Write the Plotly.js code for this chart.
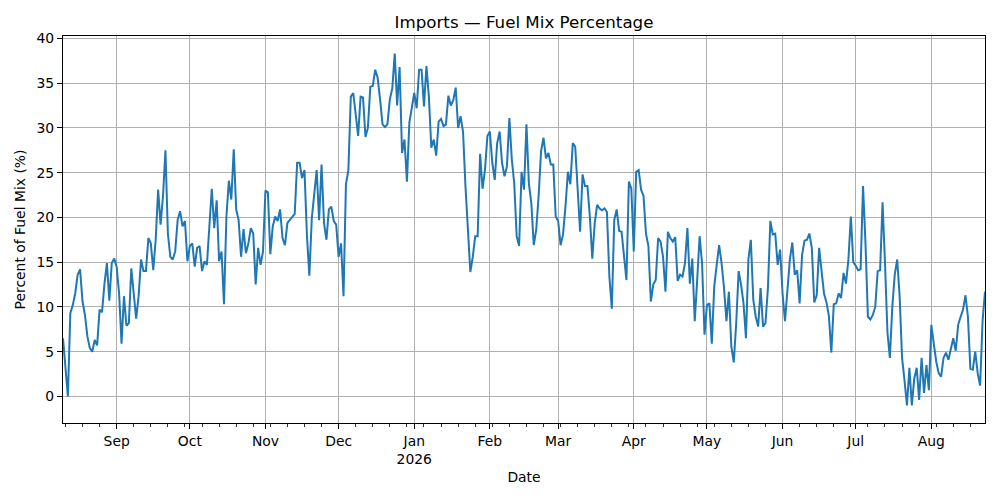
<!DOCTYPE html>
<html>
<head>
<meta charset="utf-8">
<script src="https://cdn.plot.ly/plotly-3.0.1.min.js"></script>
<style>html,body{margin:0;padding:0;background:#fff}#chart{width:1000px;height:500px}</style>
</head>
<body>
<div id="chart"></div>
<script>
// Daily series, first day 2025-08-10
const startDate = '2025-08-10';
const pct = [
6.5,3.0,0.0,9.3,10.2,11.5,13.6,14.2,10.6,9.1,6.7,5.4,5.0,6.3,5.7,9.7,9.4,12.6,14.9,10.7,
14.9,15.4,14.5,11.5,5.9,11.2,7.9,8.2,14.3,11.5,8.7,11.2,15.3,14.0,14.0,17.7,17.1,14.1,17.5,23.1,
19.2,22.4,27.5,18.2,15.6,15.3,16.2,19.7,20.7,19.0,19.6,15.1,16.8,17.1,14.5,16.6,16.8,14.0,15.1,14.7,
19.4,23.2,18.8,21.9,15.1,16.2,10.3,20.1,24.1,22.0,27.6,20.9,19.7,15.6,18.7,16.0,17.1,18.8,18.2,12.5,
16.6,14.7,16.2,23.0,22.8,15.9,19.0,20.1,19.6,20.9,17.7,16.9,19.4,19.7,20.1,20.4,26.1,26.1,24.4,25.3,
18.0,13.5,19.9,22.7,25.3,19.7,25.9,19.4,17.5,20.9,21.2,19.6,19.2,15.6,17.1,11.2,23.7,25.3,33.5,33.9,
31.1,29.1,33.5,33.4,29.0,30.0,34.6,34.7,36.5,35.6,33.2,30.4,30.1,30.4,33.2,34.4,38.3,32.5,36.8,27.2,
28.7,24.0,30.6,32.1,33.9,32.2,36.5,36.5,32.4,36.9,33.5,27.8,28.7,26.9,30.7,31.0,30.2,30.4,33.6,32.5,
33.1,34.5,30.0,31.3,29.6,23.5,17.9,13.9,15.6,17.9,17.9,27.1,23.2,25.3,29.1,29.6,26.1,24.2,28.3,29.6,
26.1,24.6,25.7,31.1,26.5,23.8,17.9,16.8,25.1,23.1,30.4,23.8,21.6,16.9,18.6,22.4,27.4,28.9,26.6,27.2,
25.9,25.9,20.1,19.6,16.9,18.1,21.2,25.1,23.7,28.3,27.9,23.7,18.4,24.8,23.5,23.5,20.1,15.4,19.4,21.4,
21.0,20.8,21.0,20.6,13.4,9.8,19.7,20.9,18.5,18.4,15.3,13.0,24.0,23.2,16.2,25.1,25.3,23.1,22.4,18.2,
16.8,10.6,12.5,13.0,17.7,17.3,15.6,11.7,18.4,17.7,17.3,17.8,12.9,13.6,13.4,14.9,18.8,12.6,15.4,8.4,
13.0,17.9,14.9,6.9,10.2,10.4,5.9,12.3,14.7,16.9,14.9,12.1,8.4,11.7,5.6,3.8,8.2,14.0,12.5,10.4,
6.5,15.3,17.5,10.8,8.9,7.8,12.1,7.8,8.2,12.1,19.6,18.1,18.2,14.7,16.4,11.5,8.4,12.1,15.3,17.2,
13.6,14.1,10.4,15.8,17.4,17.5,18.2,16.6,10.5,11.3,16.6,14.0,11.5,10.5,9.0,4.9,10.3,10.4,11.5,11.0,
13.8,12.6,15.3,20.1,15.0,14.6,14.1,14.2,23.5,17.1,8.9,8.6,9.1,10.0,14.0,14.1,21.7,14.9,7.2,4.3,
10.0,13.6,15.3,11.2,4.3,1.8,-1.0,3.2,-1.0,2.0,3.2,-0.4,4.3,0.4,3.5,0.7,8.0,5.9,3.9,2.6,
2.2,4.3,4.9,4.1,5.4,6.5,5.1,8.0,8.9,9.7,11.3,8.9,3.1,3.0,5.0,2.6,1.2,8.4,11.7
];
const monthTickVals = ['2025-09-01','2025-10-01','2025-11-01','2025-12-01','2026-01-01','2026-02-01',
  '2026-03-01','2026-04-01','2026-05-01','2026-06-01','2026-07-01','2026-08-01'];
const monthTickText = ['Sep','Oct','Nov','Dec','Jan<br>2026','Feb','Mar','Apr','May','Jun','Jul','Aug'];
const yTickVals = [0,5,10,15,20,25,30,35,40];

// build the date for each value (consecutive days)
const t0 = Date.parse(startDate + 'T00:00:00Z');
const dates = pct.map((_, i) => new Date(t0 + i * 86400000).toISOString().slice(0, 10));

const trace = {
  x: dates, y: pct, type: 'scatter', mode: 'lines',
  line: {color: '#1f77b4', width: 2}, hoverinfo: 'x+y'
};

const font = {family: 'DejaVu Sans, sans-serif', size: 13.9, color: '#000'};
const layout = {
  width: 1000, height: 500,
  margin: {l: 63, r: 15, t: 36, b: 77},
  paper_bgcolor: '#fff', plot_bgcolor: '#fff',
  font: font,
  showlegend: false,
  title: {text: 'Imports — Fuel Mix Percentage', font: {family: 'DejaVu Sans, sans-serif', size: 16.7, color: '#000'},
          x: 0.524, xanchor: 'center', yref: 'container', y: 0.956, yanchor: 'middle'},
  xaxis: {
    type: 'date',
    range: [dates[0], dates[dates.length - 1]],
    tickmode: 'array', tickvals: monthTickVals, ticktext: monthTickText,
    ticks: 'outside', ticklen: 5, tickwidth: 1.1, tickcolor: '#000',
    showgrid: true, gridcolor: '#b0b0b0', gridwidth: 1.1,
    showline: true, linecolor: '#000', linewidth: 1.1, mirror: true,
    zeroline: false,
    minor: {ticks: 'outside', ticklen: 2.8, tickwidth: 0.8, tickcolor: '#000',
            tick0: '2025-08-11', dtick: 7 * 86400000, showgrid: false},
    title: {text: 'Date', font: font, standoff: 6},
    automargin: false
  },
  yaxis: {
    range: [-2.97, 40.27],
    tickmode: 'array', tickvals: yTickVals,
    ticks: 'outside', ticklen: 5, tickwidth: 1.1, tickcolor: '#000',
    showgrid: true, gridcolor: '#b0b0b0', gridwidth: 1.1,
    showline: true, linecolor: '#000', linewidth: 1.1, mirror: true,
    zeroline: false,
    title: {text: 'Percent of Fuel Mix (%)', font: font},
    automargin: false
  }
};

Plotly.newPlot('chart', [trace], layout, {staticPlot: true, displayModeBar: false});
</script>
</body>
</html>
